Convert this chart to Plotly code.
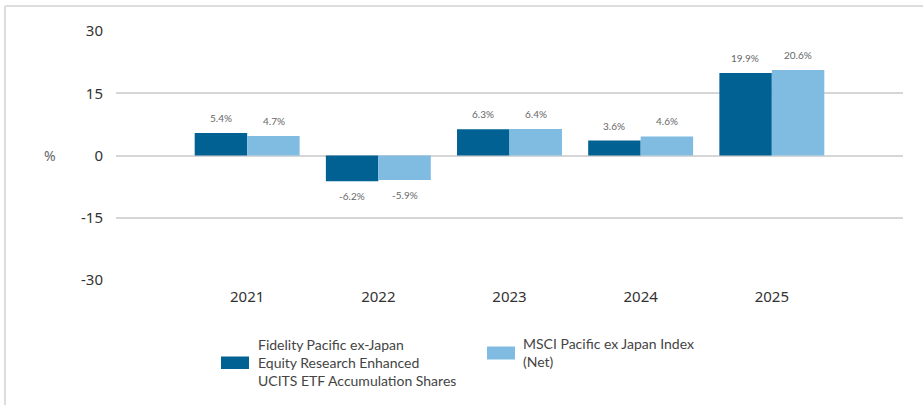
import plotly.graph_objects as go

years = ["2021", "2022", "2023", "2024", "2025"]
fund_name = "Fidelity Pacific ex-Japan<br>Equity Research Enhanced<br>UCITS ETF Accumulation Shares"
index_name = "MSCI Pacific ex Japan Index<br>(Net)"
fund_values = [5.4, -6.2, 6.3, 3.6, 19.9]
index_values = [4.7, -5.9, 6.4, 4.6, 20.6]
y_ticks = [-30, -15, 0, 15, 30]
y_tick_text = ["-30", "-15", "0", "15", "30"]

dark = "#006192"
light = "#80BCE2"

fig = go.Figure()
fig.add_bar(x=years, y=fund_values, name=fund_name, marker=dict(color=dark, line=dict(width=0)), showlegend=False)
fig.add_bar(x=years, y=index_values, name=index_name, marker=dict(color=light, line=dict(width=0)), showlegend=False)

# data labels
for vals, xs in ((fund_values, -26.5), (index_values, 26.5)):
    for i, v in enumerate(vals):
        fig.add_annotation(xref="x", yref="y", x=i, y=v, text=f"{v:.1f}%", showarrow=False,
                           xshift=xs, yshift=15 if v >= 0 else -15,
                           yanchor="middle", xanchor="center",
                           font=dict(size=10, color="#666666", family="Lato"))

# y-axis unit label
fig.add_annotation(xref="paper", yref="y", x=(50 - 116) / 787, y=0, text="%", showarrow=False,
                   xanchor="center", yanchor="middle", font=dict(size=14, color="#666666", family="Noto Sans"))

# manual legend
fig.add_shape(type="rect", xref="paper", yref="paper", x0=(221 - 116) / 787, x1=(249 - 116) / 787,
              y0=(280 - 369) / 249, y1=(280 - 356.5) / 249, fillcolor=dark, line=dict(width=0))
fig.add_annotation(xref="paper", yref="paper", x=(256 - 116) / 787, y=(280 - 362) / 249, text=fund_name,
                   showarrow=False, xanchor="left", yanchor="middle", align="left",
                   font=dict(size=14, color="#444444", family="Lato"))
fig.add_shape(type="rect", xref="paper", yref="paper", x0=(487 - 116) / 787, x1=(515 - 116) / 787,
              y0=(280 - 359.5) / 249, y1=(280 - 346.5) / 249, fillcolor=light, line=dict(width=0))
fig.add_annotation(xref="paper", yref="paper", x=(521 - 116) / 787, y=(280 - 352) / 249, text=index_name,
                   showarrow=False, xanchor="left", yanchor="middle", align="left",
                   font=dict(size=14, color="#444444", family="Lato"))

# frame
frame_col = "#dddddd"
fig.add_shape(type="line", xref="paper", yref="paper", x0=(5 - 116) / 787, x1=(923 - 116) / 787,
              y0=(280 - 6) / 249, y1=(280 - 6) / 249, line=dict(color=frame_col, width=2))
fig.add_shape(type="line", xref="paper", yref="paper", x0=(5 - 116) / 787, x1=(5 - 116) / 787,
              y0=(280 - 6) / 249, y1=(280 - 410) / 249, line=dict(color=frame_col, width=2))

fig.update_layout(
    width=923, height=405,
    margin=dict(l=116, r=20, t=31, b=125),
    paper_bgcolor="white", plot_bgcolor="white",
    barmode="group", bargap=0.2, bargroupgap=0,
    font=dict(family="Noto Sans", size=15, color="#333333"),
)
fig.update_xaxes(type="category", range=[-1, 5], showgrid=False, zeroline=False, showline=False,
                 ticks="", ticklabelstandoff=6, tickfont=dict(size=15, color="#333333", family="Noto Sans"))
fig.update_yaxes(range=[-30, 30], tickvals=y_ticks, ticktext=y_tick_text, showgrid=True,
                 gridcolor="#d6d6d6", gridwidth=2,
                 zeroline=True, zerolinecolor="#d6d6d6", zerolinewidth=2, showline=False, ticks="",
                 ticklabelstandoff=12, tickfont=dict(size=15, color="#333333", family="Noto Sans"))

fig.write_html("out.html")
